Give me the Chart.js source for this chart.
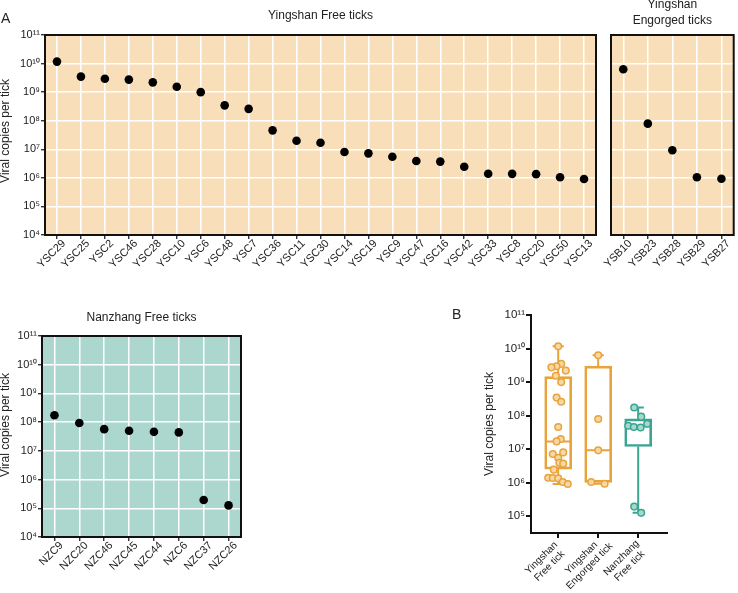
<!DOCTYPE html>
<html>
<head>
<meta charset="utf-8">
<script src="https://cdn.jsdelivr.net/npm/chart.js@4.4.1/dist/chart.umd.min.js"></script>
<style>
html,body{margin:0;padding:0;background:#fff;}
#wrap{position:relative;width:738px;height:593px;overflow:hidden;font-family:"Liberation Sans",Arial,sans-serif;}
canvas{position:absolute;}
.lbl{position:absolute;font-size:14px;line-height:14px;color:#222;}
</style>
</head>
<body>
<div id="wrap">
  <canvas id="c1" style="left:0;top:0" width="605" height="300"></canvas>
  <canvas id="c2" style="left:580px;top:0" width="158" height="300"></canvas>
  <canvas id="c3" style="left:0;top:300px" width="250" height="293"></canvas>
  <canvas id="c4" style="left:450px;top:300px" width="288" height="293"></canvas>
  <div class="lbl" style="left:1px;top:11px">A</div>
  <div class="lbl" style="left:452px;top:307px">B</div>
</div>
<script>
// ---------- data ----------
const yTickValues = [1e4, 1e5, 1e6, 1e7, 1e8, 1e9, 1e10, 1e11];
const yTickLabels = ['10⁴', '10⁵', '10⁶', '10⁷', '10⁸', '10⁹', '10¹⁰', '10¹¹'];
const boxTickValues = [1e5, 1e6, 1e7, 1e8, 1e9, 1e10, 1e11];
const boxTickLabels = ['10⁵', '10⁶', '10⁷', '10⁸', '10⁹', '10¹⁰', '10¹¹'];

const yfLabels = ['YSC29','YSC25','YSC2','YSC46','YSC28','YSC10','YSC6','YSC48','YSC7','YSC36','YSC11','YSC30','YSC14','YSC19','YSC9','YSC47','YSC16','YSC42','YSC33','YSC8','YSC20','YSC50','YSC13'];
const yfValues = [1.17e10,3.5e9,2.95e9,2.75e9,2.2e9,1.55e9,1.0e9,3.45e8,2.6e8,4.6e7,2.0e7,1.7e7,8.0e6,7.2e6,5.5e6,3.9e6,3.7e6,2.45e6,1.4e6,1.38e6,1.35e6,1.05e6,9.1e5];

const yeLabels = ['YSB10','YSB23','YSB28','YSB29','YSB27'];
const yeValues = [6.3e9,7.9e7,9.2e6,1.05e6,9.3e5];

const nzLabels = ['NZC9','NZC20','NZC46','NZC45','NZC44','NZC6','NZC37','NZC26'];
const nzValues = [1.74e8,9.3e7,5.7e7,5.0e7,4.6e7,4.4e7,1.94e5,1.26e5];

const groupLabels = [['Yingshan','Free tick'],['Yingshan','Engorged tick'],['Nanzhang','Free tick']];
const boxMin    = [9.1e5, 9.3e5, 1.26e5];
const boxQ1     = [2.55e6, 1.02e6, 1.2e7];
const boxMedian = [1.7e7, 9.2e6, 4.8e7];
const boxQ3     = [1.45e9, 3.0e9, 8.0e7];
const boxMax    = [1.17e10, 6.3e9, 1.74e8];
// horizontal scatter of the dots inside each box
const yfJitter = [0,0.075,-0.04,-0.17,0.19,-0.06,0.075,-0.04,0.075,0,0.065,-0.04,0.125,-0.135,0,0.03,0.125,-0.11,-0.25,-0.135,0,0.115,0.24];
const yeJitter = [0,0,0,-0.175,0.16];
const nzJitter = [-0.1,0.075,0.225,-0.25,-0.11,0.06,-0.1,0.075];

// ---------- style ----------
const FONT = '"Liberation Sans", Arial, sans-serif';
Chart.defaults.font.family = FONT;
Chart.defaults.color = '#222';
const PEACH = '#F8DFB9';
const TEAL_BG = '#ACD7CF';
const groupColors = ['#E9A33B', '#E9A33B', '#3BA592'];
const groupFills  = ['#F5D8A4', '#F5D8A4', '#A6D9CD'];

const decor = {
  id: 'decor',
  beforeDraw(chart, args, o) {
    if (!o || !o.bg) return;
    const a = chart.chartArea, ctx = chart.ctx;
    ctx.save();
    ctx.fillStyle = o.bg;
    ctx.fillRect(a.left, a.top, a.right - a.left, a.bottom - a.top);
    ctx.restore();
  },
  afterDraw(chart, args, o) {
    if (!o) return;
    const a = chart.chartArea, ctx = chart.ctx;
    ctx.save();
    if (o.frame) {
      ctx.strokeStyle = '#111';
      ctx.lineWidth = 2;
      ctx.strokeRect(a.left, a.top, a.right - a.left, a.bottom - a.top);
    }
    ctx.fillStyle = '#222';
    ctx.font = '12px ' + FONT;
    ctx.textBaseline = 'alphabetic';
    if (o.title) {
      ctx.textAlign = 'center';
      const cx = (a.left + a.right) / 2;
      o.title.forEach((t, i) => ctx.fillText(t, cx, a.top - o.titleOffsets[i]));
    }
    if (o.yTitle) {
      ctx.save();
      ctx.translate(o.yTitleX, o.yTitleY);
      ctx.rotate(-Math.PI / 2);
      ctx.textAlign = 'center';
      ctx.textBaseline = 'middle';
      ctx.fillText(o.yTitle, 0, 0);
      ctx.restore();
    }
    if (o.xLabels) {
      // centred multi-line category labels, rotated 45°
      const xs = chart.scales.x;
      ctx.font = o.xFont + 'px ' + FONT;
      ctx.textAlign = 'center';
      ctx.textBaseline = 'middle';
      o.xLabels.forEach((lines, i) => {
        const px = xs.getPixelForValue(i);
        ctx.save();
        ctx.translate(px + o.xdx, xs.top + o.xdy);
        ctx.rotate(-Math.PI / 4);
        lines.forEach((t, k) => ctx.fillText(t, 0, (k - (lines.length - 1) / 2) * o.xLine));
        ctx.restore();
      });
    }
    ctx.restore();
  }
};

function dotPanel(id, labels, values, opt) {
  return new Chart(document.getElementById(id), {
    type: 'line',
    data: {
      labels: labels,
      datasets: [{
        data: values,
        showLine: false,
        pointRadius: 4.3,
        pointBorderWidth: 0,
        pointBackgroundColor: '#000',
        pointBorderColor: '#000'
      }]
    },
    plugins: [decor],
    options: {
      responsive: false,
      animation: false,
      events: [],
      layout: { padding: opt.padding },
      plugins: {
        legend: { display: false },
        tooltip: { enabled: false },
        decor: {
          bg: opt.bg, frame: true,
          title: opt.title, titleOffsets: opt.titleOffsets,
          yTitle: opt.yTitle, yTitleX: opt.yTitleX, yTitleY: opt.yTitleY
        }
      },
      scales: {
        x: {
          type: 'category',
          offset: true,
          grid: { color: '#fff', lineWidth: 1.5, tickColor: '#111', tickWidth: 1.2, tickLength: 4, offset: false },
          border: { display: false },
          ticks: { autoSkip: false, maxRotation: 45, minRotation: 45, padding: -2, labelOffset: 7, color: '#222', font: { size: 11 } },
          afterFit(s) { s.height = opt.xHeight; }
        },
        y: {
          type: 'logarithmic',
          min: 1e4, max: 1e11,
          afterBuildTicks(s) { s.ticks = yTickValues.map(v => ({ value: v })); },
          grid: { color: '#fff', lineWidth: 1.5, tickColor: '#111', tickWidth: 1.2, tickLength: opt.showY ? 4 : 0, drawTicks: opt.showY },
          border: { display: false },
          ticks: { display: opt.showY, padding: 1, color: '#222', font: { size: 11 }, callback: (v, i) => yTickLabels[i] },
          afterFit(s) { s.width = opt.yWidth; }
        }
      }
    }
  });
}

dotPanel('c1', yfLabels, yfValues, {
  padding: { left: 0, top: 35, right: 9, bottom: 0 },
  bg: PEACH, title: ['Yingshan Free ticks'], titleOffsets: [16],
  yTitle: 'Viral copies per tick', yTitleX: 6, yTitleY: 131,
  xHeight: 65, yWidth: 45, showY: true
});
dotPanel('c2', yeLabels, yeValues, {
  padding: { left: 31, top: 35, right: 1, bottom: 0 },
  bg: PEACH, title: ['Yingshan', 'Engorged ticks'], titleOffsets: [27, 11],
  xHeight: 65, yWidth: 0, showY: false
});
dotPanel('c3', nzLabels, nzValues, {
  padding: { left: 0, top: 36, right: 9, bottom: 0 },
  bg: TEAL_BG, title: ['Nanzhang Free ticks'], titleOffsets: [15],
  yTitle: 'Viral copies per tick', yTitleX: 6, yTitleY: 125,
  xHeight: 56, yWidth: 42, showY: true
});

// ---------- box plot ----------
const boxHalf = 0.32, capHalf = 0.14;
const groupValues = [yfValues, yeValues, nzValues];
const groupJitter = [yfJitter, yeJitter, nzJitter];
const boxDatasets = [];
boxDatasets.push({
  type: 'bar',
  data: groupLabels.map((g, i) => ({ x: i, y: [boxQ1[i], boxQ3[i]] })),
  borderColor: groupColors,
  backgroundColor: 'rgba(255,255,255,0)',
  borderWidth: 2,
  borderSkipped: false,
  barThickness: 27,
  grouped: false,
  order: 2
});
groupLabels.forEach((g, i) => {
  boxDatasets.push({
    type: 'scatter',
    showLine: true,
    spanGaps: false,
    borderColor: groupColors[i],
    borderWidth: 2,
    pointRadius: 0,
    order: 1,
    data: [
      { x: i - boxHalf, y: boxMedian[i] }, { x: i + boxHalf, y: boxMedian[i] }, { x: i, y: null },
      { x: i, y: boxQ3[i] }, { x: i, y: boxMax[i] }, { x: i, y: null },
      { x: i - capHalf, y: boxMax[i] }, { x: i + capHalf, y: boxMax[i] }, { x: i, y: null },
      { x: i, y: boxQ1[i] }, { x: i, y: boxMin[i] }, { x: i, y: null },
      { x: i - capHalf, y: boxMin[i] }, { x: i + capHalf, y: boxMin[i] }
    ]
  });
});
groupLabels.forEach((g, i) => {
  boxDatasets.push({
    type: 'scatter',
    order: 0,
    pointRadius: 3.3,
    pointBorderWidth: 1.5,
    pointBackgroundColor: groupFills[i],
    pointBorderColor: groupColors[i],
    data: groupValues[i].map((v, k) => ({ x: i + groupJitter[i][k], y: v }))
  });
});

new Chart(document.getElementById('c4'), {
  type: 'scatter',
  data: { datasets: boxDatasets },
  plugins: [decor],
  options: {
    responsive: false,
    animation: false,
    events: [],
    layout: { padding: { left: 34, top: 15, right: 71, bottom: 0 } },
    plugins: {
      legend: { display: false },
      tooltip: { enabled: false },
      decor: { xLabels: groupLabels, xFont: 10, xLine: 11.5, xdx: -12.7, xdy: 29 }
    },
    scales: {
      x: {
        type: 'linear',
        min: -0.68, max: 2.72,
        offset: false,
        afterBuildTicks(s) { s.ticks = groupLabels.map((g, i) => ({ value: i })); },
        grid: { drawOnChartArea: false, tickColor: '#111', lineWidth: 2, tickLength: 5, offset: false },
        border: { display: true, color: '#111', width: 2 },
        ticks: { display: false },
        afterFit(s) { s.height = 60; }
      },
      y: {
        type: 'logarithmic',
        min: Math.pow(10, 4.5), max: 1e11,
        afterBuildTicks(s) { s.ticks = boxTickValues.map(v => ({ value: v })); },
        grid: { drawOnChartArea: false, tickColor: '#111', lineWidth: 2, tickLength: 5 },
        border: { display: true, color: '#111', width: 2 },
        ticks: { padding: 1, color: '#222', font: { size: 11.5 }, callback: (v, i) => boxTickLabels[i] },
        title: { display: true, text: 'Viral copies per tick', color: '#222', font: { size: 12, lineHeight: 1 }, padding: 0 },
        afterFit(s) { s.width = 47; }
      }
    }
  }
});
</script>
</body>
</html>
